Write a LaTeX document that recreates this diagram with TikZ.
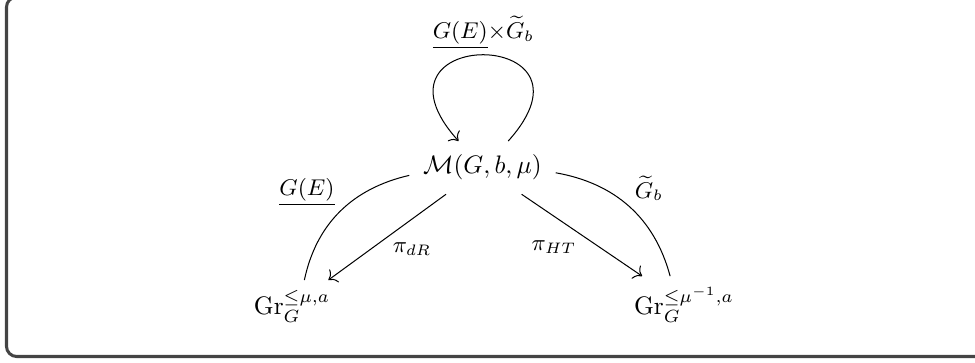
\documentclass[tikz,border=0pt]{standalone}
\usepackage{tikz}
\usetikzlibrary{arrows.meta}
\usepackage{amsmath,amssymb}
\definecolor{frgray}{HTML}{444444}

\begin{document}
\begin{tikzpicture}[
  x=0.395pt, y=0.395pt,
  space/.style={inner sep=4pt},
  lbl/.style={font=\small, inner sep=2pt},
  map/.style={-{To[length=3pt]}},
]
  \useasboundingbox (0,0) rectangle (975,363);
  \draw[frgray, line width=1.2pt, rounded corners=4pt] (6.5,6.5) rectangle (990,366);

  % spaces
  \node[space, inner sep=5.3pt, anchor=base] (m) at (482.5,189) {$\mathcal{M}(G,b,\mu)$};
  \node[space, anchor=base] (grl) at (292,48) {$\mathrm{Gr}_G^{\leq\mu,a}$};
  \node[space, anchor=base] (grr) at (684,48) {$\mathrm{Gr}_G^{\leq\mu^{-1},a}$};

  % group actions
  \draw[map] (m.46) to[out=48, in=132, looseness=8]
    node[lbl, above] {$\underline{G(E)}{\times}\widetilde{G}_b$} (m.132);
  \draw (grl.65) to[out=78, in=193] node[lbl, above left] {$\underline{G(E)}$} (m.186);
  \draw (m.-4) to[out=-10, in=105] node[lbl, above right] {$\widetilde{G}_b$} (grr.116);

  % period maps
  \draw[map] (m) -- node[lbl, below right] {$\pi_{dR}$} (grl);
  \draw[map] (m) -- node[lbl, below left] {$\pi_{HT}$} (grr);
\end{tikzpicture}
\end{document}
